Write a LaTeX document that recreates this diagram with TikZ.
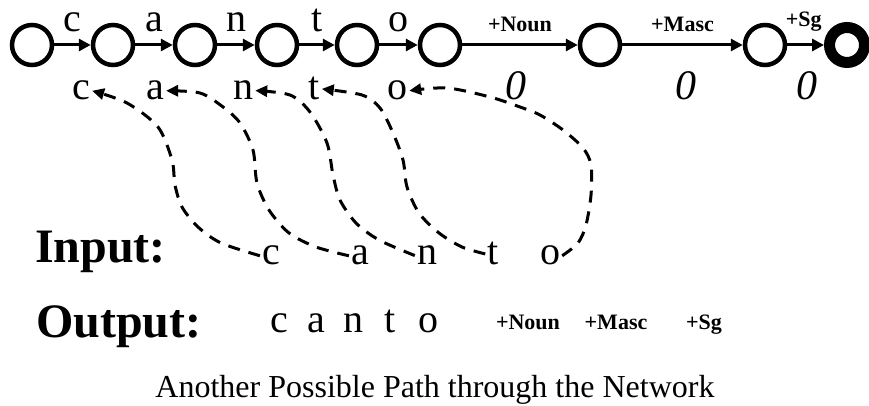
\documentclass[tikz,border=0pt]{standalone}
\usepackage{fontspec}
\setmainfont{Liberation Serif}
\usetikzlibrary{arrows.meta}

\begin{document}
\begin{tikzpicture}[x=1pt,y=1pt,
    state/.style={circle,draw,line width=4.5pt,minimum size=40pt,inner sep=0pt},
    final/.style={state,line width=11pt,minimum size=35pt},
    trans/.style={line width=3pt,-{Triangle[length=12pt,width=12pt]}},
    back/.style={line width=3pt,dash pattern=on 12pt off 9pt,-{Triangle[length=12pt,width=11pt]}},
    sym/.style={font=\fontsize{40}{42}\selectfont,inner sep=2pt,anchor=base},
    zero/.style={font=\fontsize{42}{44}\selectfont\itshape,inner sep=2pt,anchor=base},
    tag/.style={font=\fontsize{22}{24}\selectfont\bfseries,inner sep=1pt,anchor=base},
    head/.style={font=\fontsize{48}{50}\selectfont\bfseries,inner sep=0pt,anchor=base west},
    lab/.style={sym,yshift=13pt}]
\useasboundingbox (0,0) rectangle (869,406);

\node[state] (s0) at (32,361) {};
\node[state] (s1) at (113,361) {};
\node[state] (s2) at (195,361) {};
\node[state] (s3) at (277,361) {};
\node[state] (s4) at (357,361) {};
\node[state] (s5) at (440,361) {};
\node[state] (s6) at (600,361) {};
\node[state] (s7) at (765,361) {};
\node[final] (s8) at (847,361) {};

\draw[trans] (s0) -- node[lab] {c} (s1);
\draw[trans] (s1) -- node[lab] {a} (s2);
\draw[trans] (s2) -- node[lab] {n} (s3);
\draw[trans] (s3) -- node[lab] {t} (s4);
\draw[trans] (s4) -- node[lab] {o} (s5);
\draw[trans] (s5) -- node[tag,yshift=13pt] {+Noun} (s6);
\draw[trans] (s6) -- node[tag,yshift=13pt] {+Masc} (s7);
\draw[trans] (s7) -- node[tag,yshift=18pt,xshift=-2pt] {+Sg} (s8);

% surface side
\node[sym] (lc) at (81,306) {c};
\node[sym] (la) at (155,306) {a};
\node[sym] (ln) at (243,306) {n};
\node[sym] (lt) at (314,306) {t};
\node[sym] (lo) at (397,306) {o};
\node[zero] (z1) at (516,306) {0};
\node[zero] (z2) at (686,306) {0};
\node[zero] (z3) at (807,306) {0};

% input
\node[head] (inp) at (35,143) {Input:};
\node[sym] (ic) at (271,141) {c};
\node[sym] (ia) at (360,141) {a};
\node[sym] (in) at (427,141) {n};
\node[sym] (it) at (493,141) {t};
\node[sym] (io) at (550,141) {o};

\draw[back] plot[smooth] coordinates {(ic.west) (221,163) (198,179) (182,199) (175,221) (172,246) (158,279) (127,303) (lc.east)};
\draw[back] plot[smooth] coordinates {(ia.west) (316,159) (289,173) (269,196) (257,223) (253,256) (240,283) (223,299) (200,313) (la.east)};
\draw[back] plot[smooth] coordinates {(in.west) (379,166) (356,183) (340,206) (333,231) (327,263) (310,294) (290,311) (ln.east)};
\draw[back] plot[smooth] coordinates {(it.west) (462,159) (439,173) (419,193) (407,219) (403,246) (393,273) (380,298) (362,311) (lt.east)};
\draw[back] plot[smooth] coordinates {(io.east) (578,163) (586,181) (591,211) (591,241) (583,258) (563,276) (540,291) (520,299) (490,309) (447,318) (lo.east)};

% output
\node[head] (outp) at (36,68) {Output:};
\node[sym] (oc) at (279,73) {c};
\node[sym] (oa) at (316,73) {a};
\node[sym] (on) at (353,73) {n};
\node[sym] (ot) at (390,73) {t};
\node[sym] (oo) at (428,73) {o};
\node[tag] (onoun) at (528,76) {+Noun};
\node[tag] (omasc) at (616,76) {+Masc};
\node[tag] (osg) at (704,76) {+Sg};

\node[font=\fontsize{32}{34}\selectfont,anchor=base] (cap) at (435,8) {Another Possible Path through the Network};
\end{tikzpicture}
\end{document}
